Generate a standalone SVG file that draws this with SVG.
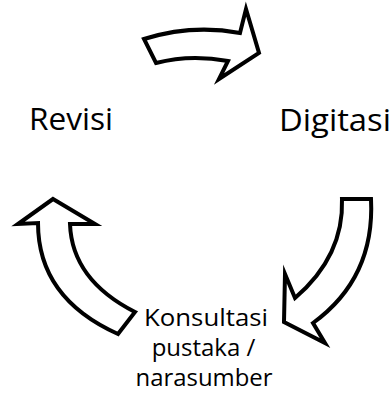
<svg xmlns="http://www.w3.org/2000/svg" width="392" height="393" viewBox="0 0 392 393">
<style>
.lbl{font-family:"Open Sans","Noto Sans","Liberation Sans",sans-serif;fill:#000;text-anchor:middle}
.big{font-size:31px}
.small{font-size:24px}
.arrow{fill:#fff;stroke:#000;stroke-width:4;stroke-linejoin:miter;stroke-miterlimit:10}
</style>
<rect width="392" height="393" fill="#fff"/>
<g id="connectors">
<path class="arrow" d="M144,39 Q192,24 240,33 L246,9 L259,53 L219,79 L228,61 Q190,54 156,63 Z"/>
<path class="arrow" d="M342,199 L371,199 Q375,278 313,323 L325,343 L284,322 L285,274 L295,298 Q344,256 342,199 Z"/>
<path class="arrow" d="M53,199 L95,224 L70,224 Q72,280 135,312 L118,334 Q38,298 38,223 L18,224 Z"/>
</g>
<g id="node-revisi">
<text class="lbl big" x="71" y="130" textLength="84" lengthAdjust="spacingAndGlyphs">Revisi</text>
</g>
<g id="node-digitasi">
<text class="lbl big" x="335" y="131" textLength="112" lengthAdjust="spacingAndGlyphs">Digitasi</text>
</g>
<g id="node-konsultasi">
<text class="lbl small" x="206" y="326" textLength="124" lengthAdjust="spacingAndGlyphs">Konsultasi</text>
<text class="lbl small" x="203.5" y="356">pustaka /</text>
<text class="lbl small" x="204" y="386" textLength="137" lengthAdjust="spacingAndGlyphs">narasumber</text>
</g>
</svg>
